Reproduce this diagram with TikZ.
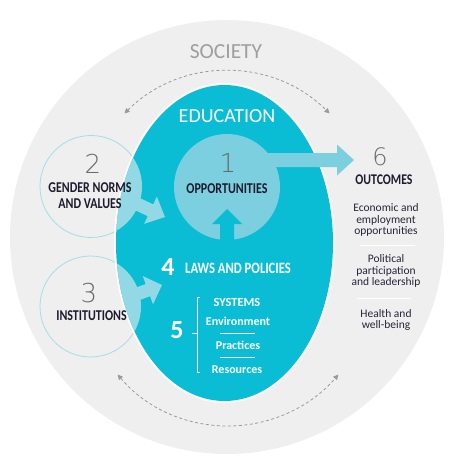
\documentclass[tikz,border=0pt]{standalone}
\usepackage{fontspec}
\setmainfont{Carlito}
\newfontfamily\condfont{Carlito}[FakeStretch=0.8]
\IfFontExistsTF{DejaVu Sans ExtraLight}{\newfontfamily\thinfont{DejaVu Sans ExtraLight}}{\newfontfamily\thinfont{DejaVu Sans}}
\usetikzlibrary{arrows.meta}
\definecolor{socgray}{HTML}{EFEFEF}
\definecolor{eduteal}{HTML}{0BBDD4}
\definecolor{opcyan}{HTML}{7BCFDF}
\definecolor{lenscyan}{HTML}{93D9E5}
\definecolor{ringblue}{HTML}{A6DCE7}
\definecolor{textdark}{HTML}{1E1B2E}
\definecolor{bodydark}{HTML}{2A2438}
\definecolor{socgrayt}{HTML}{9E9E9E}
\definecolor{arcgray}{HTML}{9A9A9A}
\definecolor{numgray}{HTML}{6A6A6A}
\newcommand{\blockarr}[7]{%
  \begin{scope}[shift={#2}, rotate=#3]
    \fill[#1] (0,0) -- (-#7,#6) -- (-#7,#5) -- (-#4,#5) -- (-#4,-#5) -- (-#7,-#5) -- (-#7,-#6) -- cycle;
  \end{scope}}
\begin{document}
\begin{tikzpicture}[x=1pt,y=-1pt,
  lbl/.style={inner sep=0pt, outer sep=0pt, anchor=center},
  condlbl/.style={lbl, font=\condfont\bfseries\fontsize{15}{16}\selectfont, text=textdark, align=center},
  thinnum/.style={lbl, font=\thinfont\fontsize{26}{26}\selectfont, text=numgray},
  bodytxt/.style={lbl, font=\fontsize{11.5}{11.3}\selectfont, text=bodydark, align=center},
  sysbold/.style={lbl, font=\bfseries\fontsize{12}{13}\selectfont, text=white},
  bignum/.style={lbl, font=\bfseries\fontsize{26}{26}\selectfont, text=white},
  dasharc/.style={draw=arcgray, line width=0.8pt, dash pattern=on 3pt off 2.5pt, {Triangle[length=5pt,width=5pt]}-{Triangle[length=5pt,width=5pt]}},
  sepline/.style={draw=white, line width=0.8pt}
]
\useasboundingbox (0,0) rectangle (466,463);
% society
\fill[socgray] (227,237) circle[radius=217];
% rings 2 and 3
\draw[ringblue, line width=0.8pt] (91,186.5) circle[radius=51];
\draw[ringblue, line width=0.8pt] (90.5,306.5) circle[radius=50.5];
% education ellipse
\fill[white] (224.5,243) ellipse[x radius=110.5, y radius=160];
\fill[eduteal] (224.5,243) ellipse[x radius=108.5, y radius=158];
\begin{scope}
  \clip (224.5,243) ellipse[x radius=108.5, y radius=158];
  \fill[lenscyan] (91,186.5) circle[radius=51];
  \fill[lenscyan] (90.5,306.5) circle[radius=50.5];
\end{scope}
% arrows from 2 and 3
\blockarr{lenscyan}{(165,217)}{-25}{38}{6.5}{15}{16}
\blockarr{lenscyan}{(162,285)}{20}{36}{6.5}{15}{15}
% opportunities circle
\fill[opcyan] (227,187) circle[radius=53];
\blockarr{opcyan}{(354,160)}{0}{99}{7}{15.5}{17}
\blockarr{eduteal}{(227,209)}{90}{45}{7}{15}{15}
% dashed arcs
\draw[dasharc] (227,216) ++(-135:145) arc[start angle=-135, end angle=-45, radius=145];
\draw[dasharc] (228,282) ++(140:144) arc[start angle=140, end angle=40, radius=144];
% texts
\node[lbl, font=\fontsize{21.5}{22}\selectfont, text=socgrayt] (soc) at (226,52) {SOCIETY};
\node[lbl, font=\fontsize{20}{20}\selectfont, text=white] (edu) at (227,116) {EDUCATION};
\node[thinnum] (n1) at (228,163) {1};
\node[condlbl] (opp) at (227,188.5) {OPPORTUNITIES};
\node[thinnum] (n2) at (93,164) {2};
\node[condlbl] (gnv) at (90,196) {GENDER NORMS\\AND VALUES};
\node[thinnum] (n3) at (89,293) {3};
\node[condlbl] (inst) at (91.5,315.5) {INSTITUTIONS};
\node[thinnum, font=\thinfont\fontsize{24}{24}\selectfont] (n6) at (380,157) {6};
\node[condlbl, font=\condfont\bfseries\fontsize{14.8}{15}\selectfont] (outc) at (384,180) {OUTCOMES};
\node[bodytxt] (econ) at (386,220) {Economic and\\employment\\opportunities};
\node[bodytxt] (pol) at (386,271) {Political\\participation\\and leadership};
\node[bodytxt] (health) at (386,320) {Health and\\well-being};
\draw[sepline] (360,245) -- (415,245);
\draw[sepline] (357,298) -- (411,298);
\node[bignum] (n4) at (168,267) {4};
\node[condlbl, font=\condfont\bfseries\fontsize{15.8}{16}\selectfont, text=white] (laws) at (238,268.5) {LAWS AND POLICIES};
\node[bignum] (n5) at (177,330) {5};
\node[sysbold, font=\bfseries\fontsize{12.4}{13}\selectfont] (sys) at (237,302) {SYSTEMS};
\node[sysbold] (env) at (238,321) {Environment};
\node[sysbold] (prac) at (238,345) {Practices};
\node[sysbold] (res) at (237,369.5) {Resources};
\draw[sepline] (200,297) -- (197,297) -- (197,372) -- (200,372);
\draw[sepline] (197,333) -- (192,333);
\draw[sepline] (220,333) -- (255,333);
\draw[sepline] (220,357) -- (255,357);
\end{tikzpicture}
\end{document}
